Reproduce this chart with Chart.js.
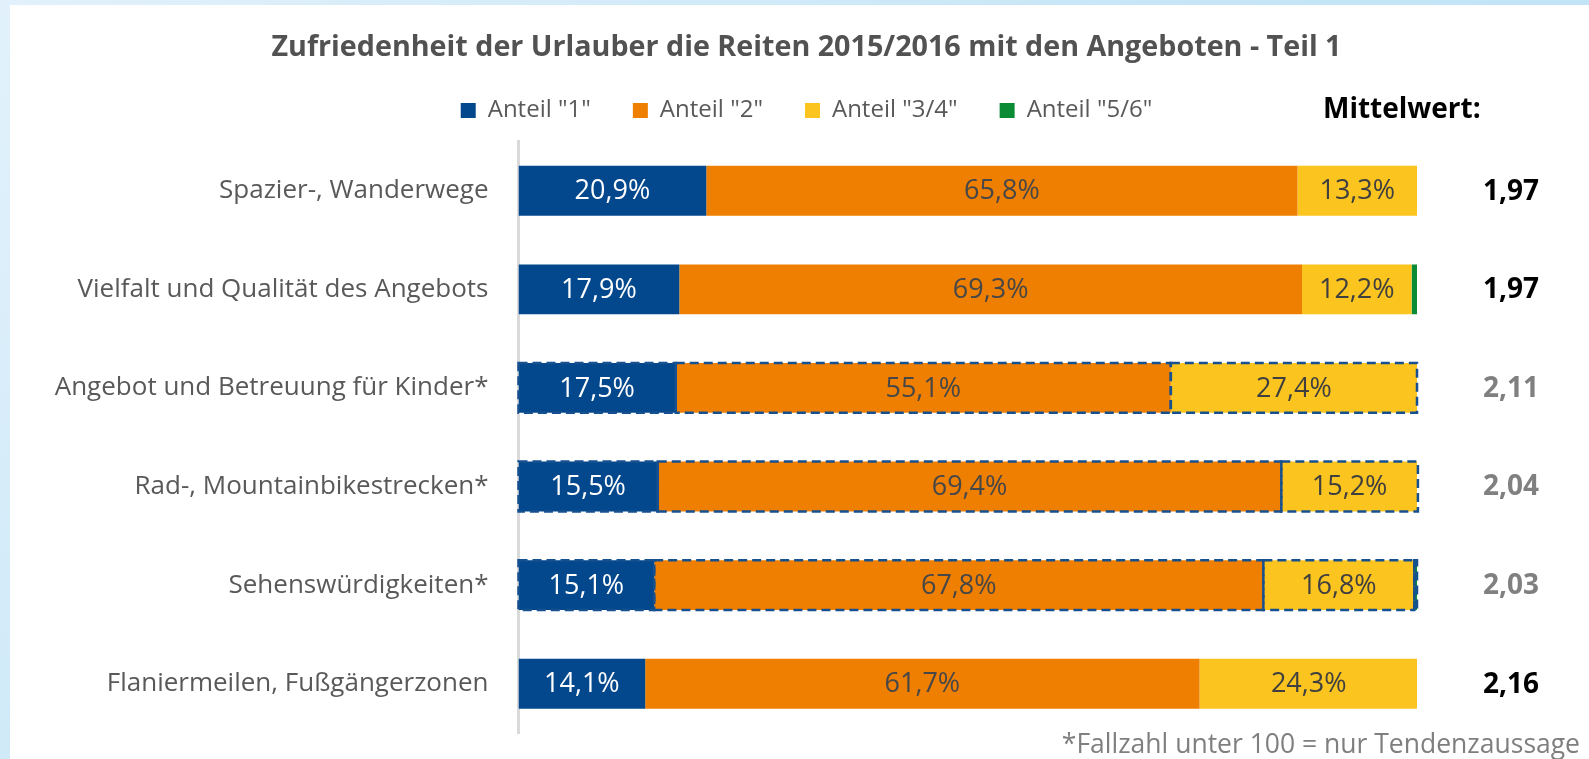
<!DOCTYPE html>
<html lang="de">
<head>
<meta charset="utf-8">
<title>Zufriedenheit der Urlauber die Reiten 2015/2016</title>
<script src="https://cdn.jsdelivr.net/npm/chart.js@4.4.1/dist/chart.umd.min.js"></script>
<style>
    html, body {
        margin: 0;
        padding: 0;
        width: 1589px;
        height: 759px;
        overflow: hidden;
        background: linear-gradient(135deg, #e2f1fb 0%, #c6e6f7 50%, #b9e1f5 100%);
    }
    #card {
        position: absolute;
        left: 10px;
        top: 5px;
        width: 1579px;
        height: 754px;
        background: #ffffff;
    }
</style>
</head>
<body>
<div id="card">
    <canvas id="angeboteChart"></canvas>
</div>
<script>
// Kategorien und Anteile (in %)
const categories = [
    'Spazier-, Wanderwege',
    'Vielfalt und Qualität des Angebots',
    'Angebot und Betreuung für Kinder*',
    'Rad-, Mountainbikestrecken*',
    'Sehenswürdigkeiten*',
    'Flaniermeilen, Fußgängerzonen'
];
const anteil1 = [20.9, 17.9, 17.5, 15.5, 15.1, 14.1];
const anteil2 = [65.8, 69.3, 55.1, 69.4, 67.8, 61.7];
const anteil34 = [13.3, 12.2, 27.4, 15.2, 16.8, 24.3];
const anteil56 = [0, 0.6, 0, 0, 0.3, 0];
const mittelwerte = [1.97, 1.97, 2.11, 2.04, 2.03, 2.16];
const seriesLabels = ['Anteil "1"', 'Anteil "2"', 'Anteil "3/4"', 'Anteil "5/6"'];

const FONT = '"Open Sans", sans-serif';
const colors = ['#03488c', '#ef7f00', '#fbc41f', '#0b8b34'];
const labelColors = ['#ffffff', '#474747', '#3f3f3f', null];

// Kategorien mit "*" haben eine Fallzahl unter 100
function isTendenz(index) {
    return categories[index].endsWith('*');
}

function formatNumber(value, digits) {
    return value.toFixed(digits).replace('.', ',');
}

// Prozentwerte mittig in die Balkensegmente schreiben
const segmentLabels = {
    id: 'segmentLabels',
    afterDatasetsDraw(chart) {
        const ctx = chart.ctx;
        ctx.save();
        ctx.font = '27px ' + FONT;
        ctx.textAlign = 'center';
        ctx.textBaseline = 'middle';
        chart.data.datasets.forEach((dataset, di) => {
            if (!labelColors[di]) return;
            const meta = chart.getDatasetMeta(di);
            meta.data.forEach((bar, i) => {
                const value = dataset.data[i];
                if (!value) return;
                const p = bar.getProps(['x', 'base', 'y'], true);
                ctx.fillStyle = labelColors[di];
                ctx.fillText(formatNumber(value, 1) + '%', (p.x + p.base) / 2, p.y + 1);
            });
        });
        ctx.restore();
    }
};

// Gestrichelte Umrandung für Tendenzaussagen
const dashedOutline = {
    id: 'dashedOutline',
    afterDatasetsDraw(chart) {
        const ctx = chart.ctx;
        ctx.save();
        ctx.strokeStyle = '#17508f';
        ctx.lineWidth = 2.5;
        ctx.setLineDash([9, 5]);
        chart.data.datasets.forEach((dataset, di) => {
            const meta = chart.getDatasetMeta(di);
            meta.data.forEach((bar, i) => {
                if (!isTendenz(i) || !dataset.data[i]) return;
                const p = bar.getProps(['x', 'base', 'y', 'height'], true);
                ctx.strokeRect(p.base, p.y - p.height / 2, p.x - p.base, p.height);
            });
        });
        ctx.restore();
    }
};

// Mittelwert-Spalte rechts neben den Balken und Fußnote
const mittelwertColumn = {
    id: 'mittelwertColumn',
    afterDraw(chart) {
        const ctx = chart.ctx;
        const area = chart.chartArea;
        const colX = area.right + 94;
        ctx.save();
        ctx.textBaseline = 'middle';

        const hit = chart.legend.legendHitBoxes[0];
        ctx.font = 'bold 28px ' + FONT;
        ctx.fillStyle = '#000000';
        ctx.textAlign = 'left';
        ctx.fillText('Mittelwert:', area.right - 94, hit.top + hit.height / 2);

        ctx.textAlign = 'center';
        const meta = chart.getDatasetMeta(0);
        meta.data.forEach((bar, i) => {
            ctx.fillStyle = isTendenz(i) ? '#808080' : '#000000';
            ctx.fillText(formatNumber(mittelwerte[i], 2), colX, bar.y + 1);
        });

        ctx.font = '26.5px ' + FONT;
        ctx.fillStyle = '#7f7f7f';
        ctx.textAlign = 'right';
        ctx.fillText('*Fallzahl unter 100 = nur Tendenzaussage', chart.width - 9, chart.height - 14);
        ctx.restore();
    }
};

const seriesData = [anteil1, anteil2, anteil34, anteil56];

const ctx = document.getElementById('angeboteChart').getContext('2d');
new Chart(ctx, {
    type: 'bar',
    data: {
        labels: categories,
        datasets: seriesData.map((data, i) => ({
            label: seriesLabels[i],
            data: data,
            yAxisID: 'y',
            backgroundColor: colors[i],
            borderWidth: 0,
            categoryPercentage: 1,
            barPercentage: 0.506
        }))
    },
    options: {
        indexAxis: 'y',
        responsive: true,
        maintainAspectRatio: false,
        animation: false,
        layout: {
            padding: { top: 0, right: 0, bottom: 26, left: 14 }
        },
        plugins: {
            title: {
                display: true,
                text: 'Zufriedenheit der Urlauber die Reiten 2015/2016 mit den Angeboten - Teil 1',
                color: '#525252',
                font: { family: FONT, size: 28.7, weight: 'bold' },
                padding: { top: 26, bottom: -9 }
            },
            legend: {
                display: true,
                position: 'top',
                labels: {
                    color: '#595959',
                    font: { family: FONT, size: 24 },
                    boxWidth: 15,
                    boxHeight: 15,
                    padding: 42
                }
            },
            tooltip: { enabled: false }
        },
        scales: {
            x: {
                stacked: true,
                min: 0,
                max: 100,
                position: 'top',
                ticks: { display: false },
                grid: { display: false, drawTicks: false },
                border: { display: false },
                afterFit(scale) {
                    scale.height = 9;
                }
            },
            y: {
                stacked: true,
                grid: { display: false, drawTicks: false },
                border: { display: true, color: '#d9d9d9', width: 3 },
                ticks: {
                    color: '#595959',
                    font: { family: FONT, size: 26 },
                    padding: 30
                },
                afterFit(scale) {
                    scale.width = 494.5;
                    scale.paddingTop = 0;
                    scale.paddingBottom = 0;
                }
            },
            // leerer Streifen rechts für die Mittelwert-Spalte
            yRight: {
                type: 'category',
                position: 'right',
                grid: { display: false, drawTicks: false },
                border: { display: false },
                ticks: { display: false },
                afterFit(scale) {
                    scale.width = 172;
                    scale.paddingTop = 0;
                    scale.paddingBottom = 0;
                }
            }
        }
    },
    plugins: [segmentLabels, dashedOutline, mittelwertColumn]
});
</script>
</body>
</html>
